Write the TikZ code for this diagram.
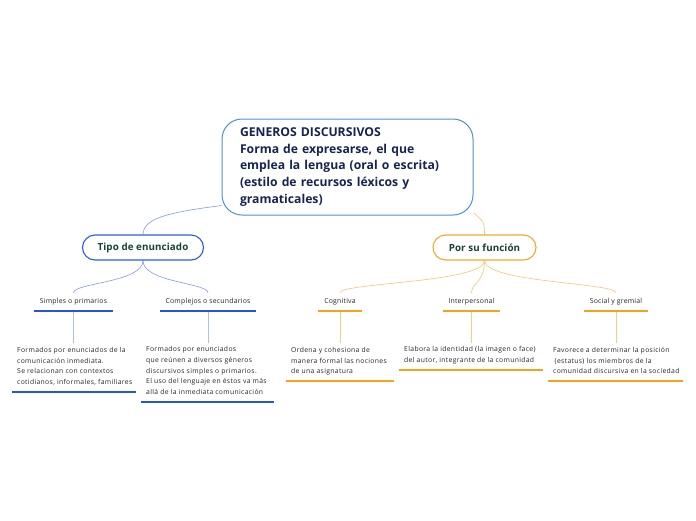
\documentclass[tikz,border=0pt]{standalone}
\usepackage{fontspec}
\setmainfont{Open Sans}
\usetikzlibrary{positioning,calc}
\definecolor{rootline}{RGB}{74,144,226}
\definecolor{roottext}{RGB}{22,36,82}
\definecolor{cattext}{RGB}{22,68,52}
\definecolor{tipoblue}{RGB}{40,92,232}
\definecolor{linkblue}{RGB}{128,156,240}
\definecolor{barblue}{RGB}{36,84,226}
\definecolor{stemblue}{RGB}{168,192,246}
\definecolor{funcorange}{RGB}{246,168,40}
\definecolor{linkorange}{RGB}{248,196,120}
\definecolor{barorange}{RGB}{246,162,28}
\definecolor{stemorange}{RGB}{250,204,130}
\definecolor{desctext}{RGB}{40,40,40}
\pgfdeclarelayer{bg}
\pgfdeclarelayer{links}
\pgfsetlayers{bg,links,main}
\tikzset{
  rootnode/.style={rectangle,rounded corners=20pt,draw=rootline,line width=1pt,fill=white,
    minimum width=251pt,minimum height=96pt,text width=215pt,align=left,
    font=\fontsize{12.2}{16.8}\selectfont\bfseries,text=roottext},
  catnode/.style={rectangle,rounded corners=12.5pt,line width=1.1pt,fill=white,
    minimum height=25pt,font=\fontsize{9.8}{11}\selectfont\bfseries\addfontfeature{LetterSpace=1},text=cattext},
  subnode/.style={inner sep=0pt,minimum height=18pt,font=\fontsize{6.9}{8}\selectfont\addfontfeature{LetterSpace=3},text=desctext},
  descnode/.style={inner xsep=5pt,inner ysep=4pt,align=left,anchor=north west,
    font=\fontsize{6.8}{10.7}\selectfont\addfontfeature{LetterSpace=5},text=desctext,
    execute at begin node=\strut,execute at end node=\strut},
  bluelink/.style={draw=linkblue,line width=0.6pt},
  orangelink/.style={draw=linkorange,line width=0.6pt},
  bluebar/.style={draw=barblue,line width=2pt},
  orangebar/.style={draw=barorange,line width=2pt},
  bluestem/.style={draw=stemblue,line width=1pt},
  orangestem/.style={draw=stemorange,line width=1pt}
}

\begin{document}
\begin{tikzpicture}[x=1pt,y=-1pt]
  \begin{pgfonlayer}{bg}
    \fill[white] (0,0) rectangle (696,520);
  \end{pgfonlayer}
  \useasboundingbox (0,0) rectangle (696,520);

  %% Central topic
  \node[rootnode] (root) at (347.5,167) {GENEROS DISCURSIVOS\\Forma de expresarse, el que\\emplea la lengua (oral o escrita)\\(estilo de recursos léxicos y\\gramaticales)};

  %% Main branches
  \node[catnode,draw=tipoblue,minimum width=121pt] (tipo) at (143,247.5) {Tipo de enunciado};
  \node[catnode,draw=funcorange,minimum width=103pt] (func) at (484.5,247.5) {Por su función};

  %% Sub topics
  \node[subnode,minimum width=79pt] (simp) at (73.5,302) {Simples o primarios};
  \node[subnode,minimum width=96pt] (comp) at (208,302) {Complejos o secundarios};
  \node[subnode,minimum width=44pt] (cogn) at (340,302) {Cognitiva};
  \node[subnode,minimum width=57pt] (inter) at (471.5,302) {Interpersonal};
  \node[subnode,minimum width=64pt] (soc) at (616,302) {Social y gremial};

  %% Descriptions
  \node[descnode] (simpdesc) at (12,343) {Formados por enunciados de la\\comunicación inmediata.\\Se relacionan con contextos\\cotidianos, informales, familiares};
  \node[descnode] (compdesc) at (141,342.5) {Formados por enunciados\\que reúnen a diversos géneros\\discursivos simples o primarios.\\El uso del lenguaje en éstos va más\\allá de la inmediata comunicación};
  \node[descnode] (cogndesc) at (286,343) {Ordena y cohesiona de\\manera formal las nociones\\de una asignatura};
  \node[descnode] (interdesc) at (399,342.5) {Elabora la identidad (la imagen o face)\\del autor, integrante de la comunidad};
  \node[descnode] (socdesc) at (548,343) {Favorece a determinar la posición\\\hspace*{1.5pt}(estatus) los miembros de la\\comunidad discursiva en la sociedad};

  \begin{pgfonlayer}{links}
    \draw[bluelink] (root.197) .. controls +(-45,6) and +(0,-18) .. (tipo.north);
    \draw[orangelink] (root.340) .. controls +(10,8) and +(0,-12) .. (func.north);
    \foreach \kid in {simp,comp}
      \draw[bluelink] (tipo.south) .. controls +(0,22) and +(0,-10) .. (\kid.north);
    \foreach \kid in {cogn,inter,soc}
      \draw[orangelink] (func.south) .. controls +(0,22) and +(0,-10) .. (\kid.north);
    %% stems
    \foreach \kid in {simp,comp}
      \draw[bluestem] (\kid.south) -- (\kid.south |- \kid desc.north);
    \foreach \kid in {cogn,inter,soc}
      \draw[orangestem] (\kid.south) -- (\kid.south |- \kid desc.north);
  \end{pgfonlayer}

  %% underlines
  \foreach \kid in {simp,comp}
    \draw[bluebar] (\kid.south west) -- (\kid.south east);
  \foreach \kid in {cogn,inter,soc}
    \draw[orangebar] (\kid.south west) -- (\kid.south east);
  \foreach \kid/\len in {simpdesc/124,compdesc/133}
    \draw[bluebar] (\kid.south west) -- ++(\len,0);
  \foreach \kid/\len in {cogndesc/108,interdesc/144,socdesc/135}
    \draw[orangebar] (\kid.south west) -- ++(\len,0);
\end{tikzpicture}
\end{document}
